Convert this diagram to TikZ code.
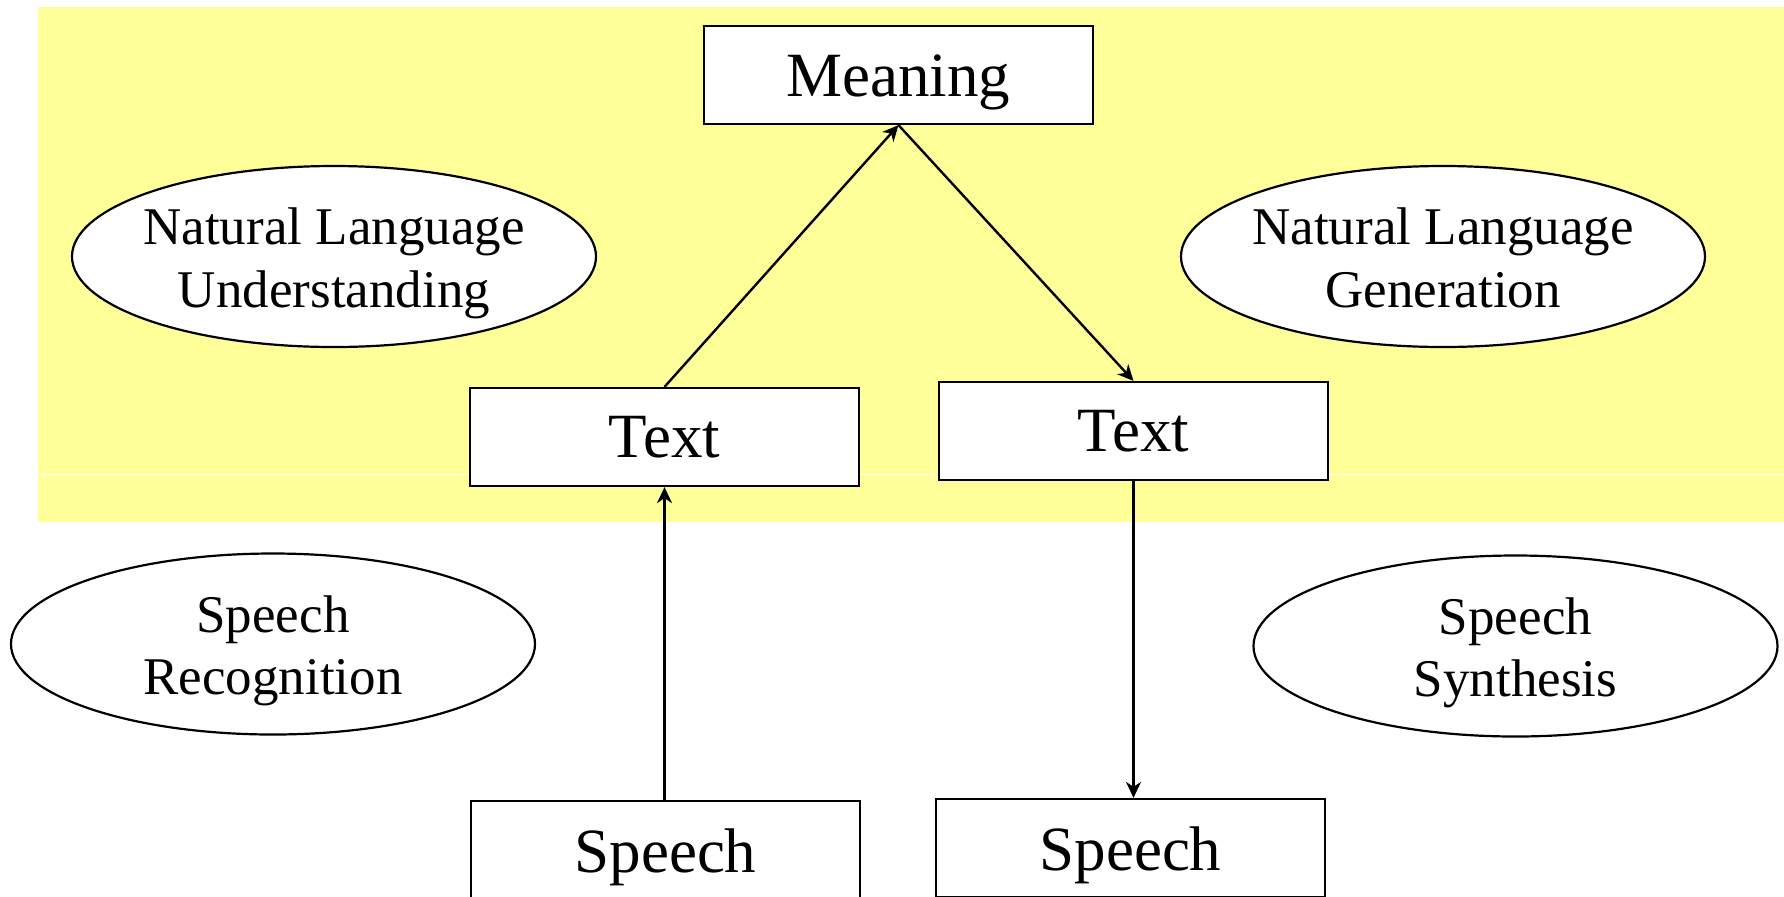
\documentclass[tikz,border=0pt]{standalone}
\usepackage{fontspec}
\setmainfont{Liberation Serif}
\usetikzlibrary{shapes.geometric,arrows.meta}
\definecolor{paleyellow}{RGB}{255,255,153}
\tikzset{
  stage/.style={draw, line width=1.1pt, fill=white, minimum width=194.5pt,
    minimum height=49pt, inner sep=0pt},
  stagetext/.style={inner sep=0pt, yshift=-3.5pt,
    font=\fontsize{31.5}{36}\selectfont},
  oval/.style={draw, line width=1.1pt, fill=white, ellipse, inner sep=0pt,
    minimum width=262pt, minimum height=90.5pt},
  ovaltext/.style={align=center, inner sep=0pt, yshift=-3.5pt,
    font=\fontsize{26.5}{31.3}\selectfont},
  flow/.style={line width=1.2pt, -{Stealth[length=8pt,width=7.5pt,inset=2.5pt]}}
}
\begin{document}
\begin{tikzpicture}[x=0.5pt,y=-0.5pt]
  \useasboundingbox (0,0) rectangle (1784,896);
  % language band
  \fill[paleyellow] (37.5,7) rectangle (1784,522);
  \draw[white, line width=0.5pt] (37.5,474) -- (1784,474);

  % stages
  \node[stage] (mean) at (898.5,75) {};
  \node[stagetext] at (mean.center) {Meaning};
  \node[stage] (txtL) at (664.5,437) {};
  \node[stagetext] at (txtL.center) {Text\vphantom{g}};
  \node[stage] (txtR) at (1133.5,431) {};
  \node[stagetext] at (txtR.center) {Text\vphantom{g}};
  \node[stage] (spL)  at (665.5,850) {};
  \node[stagetext] at (spL.center) {Speech};
  \node[stage] (spR)  at (1130.5,848) {};
  \node[stagetext] at (spR.center) {Speech};

  % processes
  \node[oval] (nlu) at (334,256.5) {};
  \node[ovaltext] at (nlu.center) {Natural Language\\Understanding};
  \node[oval] (nlg) at (1443,256.5) {};
  \node[ovaltext] at (nlg.center) {Natural Language\\Generation\vphantom{g}};
  \node[oval] (sr) at (273,644) {};
  \node[ovaltext] at (sr.center) {Speech\\Recognition};
  \node[oval] (ss) at (1515.5,646) {};
  \node[ovaltext] at (ss.center) {Speech\\Synthesis};

  % connectors
  \draw[flow] (txtL.north) -- (mean.south);
  \draw[flow] (mean.south) -- (txtR.north);
  \draw[flow] (spL.north -| txtL.south) -- (txtL.south);
  \draw[flow] (txtR.south) -- (spR.north -| txtR.south);
\end{tikzpicture}
\end{document}
